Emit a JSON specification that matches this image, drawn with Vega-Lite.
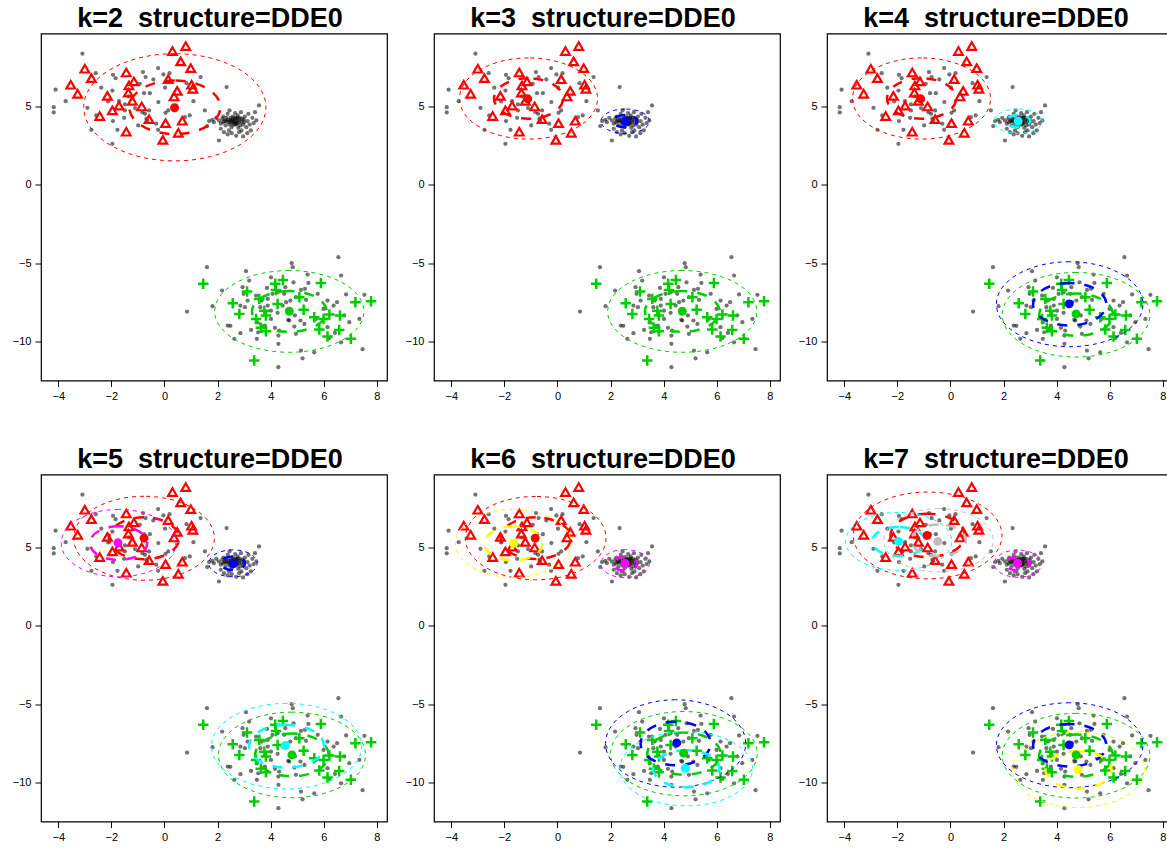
{
"$schema":"https://vega.github.io/schema/vega-lite/v6.json",
"padding":{"left":11,"top":3.5,"right":0,"bottom":0},
"bounds":"flush",
"spacing":{"row":94,"column":47},
"columns":3,
"config":{"font":"Liberation Sans","view":{"stroke":"#000","strokeWidth":1.2},
"title":{"fontSize":27,"fontWeight":"bold","color":"#000","offset":1,"baseline":"bottom","anchor":"middle","frame":"group","dx":-4},
"axis":{"grid":false,"domain":false,"labelFontSize":11,"labelColor":"#000","tickColor":"#000","tickSize":6,"labelPadding":4}},
"datasets":{
"pts":[{"x":-3.09,"y":8.38},{"x":-4.1,"y":6.08},{"x":-3.72,"y":5.35},{"x":-4.17,"y":4.97},{"x":-4.17,"y":4.63},{"x":-2.59,"y":7.14},{"x":-2.38,"y":6.21},{"x":-1.94,"y":7.03},{"x":-1.84,"y":6.82},{"x":-2.9,"y":4.93},{"x":-2.57,"y":4.44},{"x":-2.75,"y":3.52},{"x":-2.12,"y":5.33},{"x":-1.96,"y":6.03},{"x":-1.94,"y":4.08},{"x":-1.77,"y":3.52},{"x":-1.96,"y":2.63},{"x":-1.52,"y":4.29},{"x":-1.49,"y":4.76},{"x":-1.11,"y":4.91},{"x":-0.99,"y":3.8},{"x":-0.81,"y":7.21},{"x":-0.71,"y":6.89},{"x":-0.93,"y":6.46},{"x":-0.77,"y":5.86},{"x":-0.55,"y":5.86},{"x":-0.42,"y":6.74},{"x":-0.24,"y":7.46},{"x":-0.23,"y":5.29},{"x":-0.04,"y":7.06},{"x":0.02,"y":6.21},{"x":0.04,"y":4.61},{"x":0.14,"y":4.76},{"x":-0.31,"y":3.91},{"x":-0.24,"y":3.52},{"x":0.19,"y":7.14},{"x":0.83,"y":6.5},{"x":1.09,"y":5.35},{"x":1.36,"y":6.89},{"x":0.77,"y":4.33},{"x":0.95,"y":4.44},{"x":-0.73,"y":4.54},{"x":-0.68,"y":4.23},{"x":-0.58,"y":4.76},{"x":2.34,"y":6.25},{"x":1.52,"y":4.76},{"x":1.68,"y":4.08},{"x":1.61,"y":3.76},{"x":2.05,"y":2.84},{"x":3.56,"y":5.08},{"x":-1.34,"y":5.65},{"x":-1.71,"y":5.35},{"x":-1.49,"y":5.14},{"x":-0.83,"y":4.65},{"x":-0.65,"y":4.12},
{"x":1.8,"y":4.16},{"x":1.86,"y":4.01},{"x":1.95,"y":4.29},{"x":2.05,"y":4.12},{"x":2.12,"y":3.91},{"x":2.18,"y":4.23},{"x":2.22,"y":4.37},{"x":2.25,"y":4.08},{"x":2.3,"y":3.8},{"x":2.34,"y":4.29},{"x":2.38,"y":4.54},{"x":2.43,"y":4.01},{"x":2.45,"y":4.76},{"x":2.49,"y":4.16},{"x":2.53,"y":3.69},{"x":2.58,"y":4.37},{"x":2.62,"y":4.08},{"x":2.66,"y":4.59},{"x":2.68,"y":3.86},{"x":2.72,"y":4.23},{"x":2.76,"y":4.44},{"x":2.78,"y":3.65},{"x":2.81,"y":4.01},{"x":2.84,"y":4.29},{"x":2.88,"y":4.65},{"x":2.9,"y":3.48},{"x":2.96,"y":3.86},{"x":2.99,"y":4.16},{"x":3.03,"y":4.37},{"x":3.08,"y":3.69},{"x":3.13,"y":4.08},{"x":3.16,"y":4.54},{"x":3.21,"y":3.86},{"x":3.25,"y":3.48},{"x":3.31,"y":4.29},{"x":3.36,"y":3.95},{"x":3.41,"y":4.65},{"x":3.46,"y":4.12},{"x":2.24,"y":3.37},{"x":2.38,"y":3.23},{"x":2.53,"y":3.31},{"x":2.7,"y":3.14},{"x":2.96,"y":3.1},{"x":3.12,"y":3.31},{"x":2.12,"y":3.59},{"x":2.43,"y":3.48},{"x":2.81,"y":3.37},{"x":2.56,"y":4.12},{"x":2.74,"y":3.95},{"x":2.3,"y":4.12},{"x":2.93,"y":4.23},{"x":2.66,"y":4.29},{"x":2.45,"y":3.86},
{"x":2.5,"y":4.05},{"x":2.6,"y":4.2},{"x":2.7,"y":4.1},{"x":2.55,"y":3.95},{"x":2.65,"y":4.0},{"x":2.4,"y":4.15},{"x":2.8,"y":4.15},{"x":2.35,"y":4.05},{"x":2.9,"y":4.05},{"x":2.6,"y":3.85},{"x":2.7,"y":3.9},{"x":2.5,"y":4.3},{"x":2.75,"y":4.3},{"x":2.2,"y":4.0},{"x":3.0,"y":4.0},{"x":2.85,"y":3.8},
{"x":1.6,"y":-5.25},{"x":6.55,"y":-4.61},{"x":4.79,"y":-4.99},{"x":4.83,"y":-5.25},{"x":3.07,"y":-5.5},{"x":4.01,"y":-5.89},{"x":5.39,"y":-5.72},{"x":6.65,"y":-5.78},{"x":3.19,"y":-6.1},{"x":2.17,"y":-6.74},{"x":2.94,"y":-6.52},{"x":2.98,"y":-6.95},{"x":3.86,"y":-6.57},{"x":4.86,"y":-6.21},{"x":5.42,"y":-6.25},{"x":5.14,"y":-6.7},{"x":5.29,"y":-6.63},{"x":5.77,"y":-6.95},{"x":3.45,"y":-7.06},{"x":3.89,"y":-7.27},{"x":4.26,"y":-6.84},{"x":4.51,"y":-6.95},{"x":4.74,"y":-7.38},{"x":4.95,"y":-7.16},{"x":5.33,"y":-7.33},{"x":6.84,"y":-6.99},{"x":7.53,"y":-7.01},{"x":0.85,"y":-8.08},{"x":1.81,"y":-7.74},{"x":3.03,"y":-7.8},{"x":3.13,"y":-7.38},{"x":3.61,"y":-7.8},{"x":4.01,"y":-8.02},{"x":4.26,"y":-8.16},{"x":4.45,"y":-7.7},{"x":4.66,"y":-8.61},{"x":4.91,"y":-8.33},{"x":5.12,"y":-8.65},{"x":5.27,"y":-8.87},{"x":5.7,"y":-8.55},{"x":6.14,"y":-7.38},{"x":6.37,"y":-7.7},{"x":6.5,"y":-7.48},{"x":5.99,"y":-7.91},{"x":6.96,"y":-8.76},{"x":7.34,"y":-8.55},{"x":2.38,"y":-8.97},{"x":2.48,"y":-8.99},{"x":2.86,"y":-9.46},{"x":3.26,"y":-9.25},{"x":3.48,"y":-8.76},{"x":3.78,"y":-8.97},{"x":4.16,"y":-9.12},{"x":4.32,"y":-9.29},{"x":4.7,"y":-8.65},{"x":4.89,"y":-9.04},{"x":6.14,"y":-9.08},{"x":6.42,"y":-9.44},{"x":6.65,"y":-10.04},{"x":2.63,"y":-9.82},{"x":3.48,"y":-9.82},{"x":4.29,"y":-9.61},{"x":4.29,"y":-10.14},{"x":5.64,"y":-10.68},{"x":5.14,"y":-10.57},{"x":5.2,"y":-11.06},{"x":4.29,"y":-11.63},{"x":7.46,"y":-10.48},{"x":6.21,"y":-9.76},{"x":4.07,"y":-6.95},{"x":4.58,"y":-7.48},{"x":3.89,"y":-7.7},{"x":2.86,"y":-7.7},{"x":3.66,"y":-7.38},{"x":3.53,"y":-9.4},{"x":4.01,"y":-8.55},{"x":6.77,"y":-8.33},{"x":4.95,"y":-9.5},{"x":4.55,"y":-6.52}],
"tri":[{"x":0.8,"y":8.87},{"x":0.3,"y":8.55},{"x":0.61,"y":7.89},{"x":0.99,"y":7.46},{"x":-3.0,"y":7.42},{"x":-1.44,"y":7.18},{"x":-2.75,"y":6.82},{"x":-1.15,"y":6.61},{"x":0.14,"y":6.76},{"x":1.02,"y":6.4},{"x":1.07,"y":6.14},{"x":-3.53,"y":6.4},{"x":-1.34,"y":6.35},{"x":0.48,"y":6.01},{"x":-3.27,"y":5.82},{"x":-1.36,"y":5.89},{"x":-2.15,"y":5.69},{"x":0.36,"y":5.65},{"x":-1.21,"y":5.37},{"x":-0.86,"y":5.01},{"x":-1.71,"y":5.06},{"x":-1.96,"y":4.76},{"x":-2.44,"y":4.4},{"x":-0.58,"y":4.2},{"x":0.67,"y":4.1},{"x":0.04,"y":3.95},{"x":-1.44,"y":3.4},{"x":0.52,"y":3.33},{"x":-0.06,"y":2.88}],
"plus":[{"x":1.46,"y":-6.31},{"x":4.17,"y":-6.31},{"x":4.46,"y":-6.06},{"x":5.89,"y":-6.25},{"x":3.11,"y":-6.8},{"x":4.2,"y":-6.7},{"x":3.57,"y":-7.27},{"x":2.57,"y":-7.55},{"x":4.26,"y":-7.59},{"x":5.08,"y":-7.16},{"x":7.19,"y":-7.48},{"x":7.78,"y":-7.42},{"x":2.82,"y":-8.23},{"x":3.76,"y":-8.02},{"x":5.24,"y":-7.97},{"x":3.45,"y":-8.55},{"x":3.82,"y":-8.33},{"x":5.64,"y":-8.44},{"x":5.99,"y":-8.55},{"x":6.21,"y":-8.27},{"x":6.61,"y":-8.33},{"x":5.83,"y":-9.23},{"x":6.58,"y":-9.25},{"x":3.63,"y":-9.12},{"x":3.82,"y":-9.33},{"x":6.14,"y":-9.67},{"x":7.02,"y":-9.82},{"x":3.38,"y":-11.21}],
"ell":[
{"k":2,"c":2,"r":"o","o":0,"x":3.82,"y":4.96},{"k":2,"c":2,"r":"o","o":1,"x":0.39,"y":8.38},{"k":2,"c":2,"r":"o","o":2,"x":-3.04,"y":4.96},{"k":2,"c":2,"r":"o","o":3,"x":0.39,"y":1.54},
{"k":2,"c":2,"r":"i","o":0,"x":2.105,"y":4.96},{"k":2,"c":2,"r":"i","o":1,"x":0.39,"y":6.67},{"k":2,"c":2,"r":"i","o":2,"x":-1.325,"y":4.96},{"k":2,"c":2,"r":"i","o":3,"x":0.39,"y":3.25},
{"k":2,"c":3,"r":"o","o":0,"x":7.51,"y":-8.07},{"k":2,"c":3,"r":"o","o":1,"x":4.7,"y":-5.46},{"k":2,"c":3,"r":"o","o":2,"x":1.89,"y":-8.07},{"k":2,"c":3,"r":"o","o":3,"x":4.7,"y":-10.68},
{"k":2,"c":3,"r":"i","o":0,"x":6.105,"y":-8.07},{"k":2,"c":3,"r":"i","o":1,"x":4.7,"y":-6.765},{"k":2,"c":3,"r":"i","o":2,"x":3.295,"y":-8.07},{"k":2,"c":3,"r":"i","o":3,"x":4.7,"y":-9.375},
{"k":3,"c":2,"r":"o","o":0,"x":1.51,"y":5.52},{"k":3,"c":2,"r":"o","o":1,"x":-1.09,"y":8.11},{"k":3,"c":2,"r":"o","o":2,"x":-3.69,"y":5.52},{"k":3,"c":2,"r":"o","o":3,"x":-1.09,"y":2.93},
{"k":3,"c":2,"r":"i","o":0,"x":0.21,"y":5.52},{"k":3,"c":2,"r":"i","o":1,"x":-1.09,"y":6.815},{"k":3,"c":2,"r":"i","o":2,"x":-2.39,"y":5.52},{"k":3,"c":2,"r":"i","o":3,"x":-1.09,"y":4.225},
{"k":3,"c":3,"r":"o","o":0,"x":7.51,"y":-8.07},{"k":3,"c":3,"r":"o","o":1,"x":4.7,"y":-5.46},{"k":3,"c":3,"r":"o","o":2,"x":1.89,"y":-8.07},{"k":3,"c":3,"r":"o","o":3,"x":4.7,"y":-10.68},
{"k":3,"c":3,"r":"i","o":0,"x":6.105,"y":-8.07},{"k":3,"c":3,"r":"i","o":1,"x":4.7,"y":-6.765},{"k":3,"c":3,"r":"i","o":2,"x":3.295,"y":-8.07},{"k":3,"c":3,"r":"i","o":3,"x":4.7,"y":-9.375},
{"k":3,"c":4,"r":"o","o":0,"x":3.46,"y":4.07},{"k":3,"c":4,"r":"o","o":1,"x":2.55,"y":4.85},{"k":3,"c":4,"r":"o","o":2,"x":1.64,"y":4.07},{"k":3,"c":4,"r":"o","o":3,"x":2.55,"y":3.29},
{"k":3,"c":4,"r":"i","o":0,"x":3.005,"y":4.07},{"k":3,"c":4,"r":"i","o":1,"x":2.55,"y":4.46},{"k":3,"c":4,"r":"i","o":2,"x":2.095,"y":4.07},{"k":3,"c":4,"r":"i","o":3,"x":2.55,"y":3.68},
{"k":4,"c":2,"r":"o","o":0,"x":1.51,"y":5.52},{"k":4,"c":2,"r":"o","o":1,"x":-1.09,"y":8.11},{"k":4,"c":2,"r":"o","o":2,"x":-3.69,"y":5.52},{"k":4,"c":2,"r":"o","o":3,"x":-1.09,"y":2.93},
{"k":4,"c":2,"r":"i","o":0,"x":0.21,"y":5.52},{"k":4,"c":2,"r":"i","o":1,"x":-1.09,"y":6.815},{"k":4,"c":2,"r":"i","o":2,"x":-2.39,"y":5.52},{"k":4,"c":2,"r":"i","o":3,"x":-1.09,"y":4.225},
{"k":4,"c":3,"r":"o","o":0,"x":7.51,"y":-8.28},{"k":4,"c":3,"r":"o","o":1,"x":4.73,"y":-5.58},{"k":4,"c":3,"r":"o","o":2,"x":1.95,"y":-8.28},{"k":4,"c":3,"r":"o","o":3,"x":4.73,"y":-10.98},
{"k":4,"c":3,"r":"i","o":0,"x":6.12,"y":-8.28},{"k":4,"c":3,"r":"i","o":1,"x":4.73,"y":-6.93},{"k":4,"c":3,"r":"i","o":2,"x":3.34,"y":-8.28},{"k":4,"c":3,"r":"i","o":3,"x":4.73,"y":-9.63},
{"k":4,"c":4,"r":"o","o":0,"x":7.25,"y":-7.61},{"k":4,"c":4,"r":"o","o":1,"x":4.49,"y":-4.9},{"k":4,"c":4,"r":"o","o":2,"x":1.73,"y":-7.61},{"k":4,"c":4,"r":"o","o":3,"x":4.49,"y":-10.32},
{"k":4,"c":4,"r":"i","o":0,"x":5.87,"y":-7.61},{"k":4,"c":4,"r":"i","o":1,"x":4.49,"y":-6.255},{"k":4,"c":4,"r":"i","o":2,"x":3.11,"y":-7.61},{"k":4,"c":4,"r":"i","o":3,"x":4.49,"y":-8.965},
{"k":4,"c":5,"r":"o","o":0,"x":3.46,"y":4.07},{"k":4,"c":5,"r":"o","o":1,"x":2.55,"y":4.85},{"k":4,"c":5,"r":"o","o":2,"x":1.64,"y":4.07},{"k":4,"c":5,"r":"o","o":3,"x":2.55,"y":3.29},
{"k":4,"c":5,"r":"i","o":0,"x":3.005,"y":4.07},{"k":4,"c":5,"r":"i","o":1,"x":2.55,"y":4.46},{"k":4,"c":5,"r":"i","o":2,"x":2.095,"y":4.07},{"k":4,"c":5,"r":"i","o":3,"x":2.55,"y":3.68},
{"k":5,"c":2,"r":"o","o":0,"x":1.88,"y":5.6},{"k":5,"c":2,"r":"o","o":1,"x":-0.77,"y":8.28},{"k":5,"c":2,"r":"o","o":2,"x":-3.42,"y":5.6},{"k":5,"c":2,"r":"o","o":3,"x":-0.77,"y":2.92},
{"k":5,"c":2,"r":"i","o":0,"x":0.555,"y":5.6},{"k":5,"c":2,"r":"i","o":1,"x":-0.77,"y":6.94},{"k":5,"c":2,"r":"i","o":2,"x":-2.095,"y":5.6},{"k":5,"c":2,"r":"i","o":3,"x":-0.77,"y":4.26},
{"k":5,"c":3,"r":"o","o":0,"x":7.57,"y":-8.23},{"k":5,"c":3,"r":"o","o":1,"x":4.8,"y":-5.5},{"k":5,"c":3,"r":"o","o":2,"x":2.03,"y":-8.23},{"k":5,"c":3,"r":"o","o":3,"x":4.8,"y":-10.96},
{"k":5,"c":3,"r":"i","o":0,"x":6.185,"y":-8.23},{"k":5,"c":3,"r":"i","o":1,"x":4.8,"y":-6.865},{"k":5,"c":3,"r":"i","o":2,"x":3.415,"y":-8.23},{"k":5,"c":3,"r":"i","o":3,"x":4.8,"y":-9.595},
{"k":5,"c":4,"r":"o","o":0,"x":3.49,"y":4.0},{"k":5,"c":4,"r":"o","o":1,"x":2.58,"y":4.86},{"k":5,"c":4,"r":"o","o":2,"x":1.67,"y":4.0},{"k":5,"c":4,"r":"o","o":3,"x":2.58,"y":3.14},
{"k":5,"c":4,"r":"i","o":0,"x":3.035,"y":4.0},{"k":5,"c":4,"r":"i","o":1,"x":2.58,"y":4.43},{"k":5,"c":4,"r":"i","o":2,"x":2.125,"y":4.0},{"k":5,"c":4,"r":"i","o":3,"x":2.58,"y":3.57},
{"k":5,"c":5,"r":"o","o":0,"x":7.43,"y":-7.67},{"k":5,"c":5,"r":"o","o":1,"x":4.6,"y":-4.94},{"k":5,"c":5,"r":"o","o":2,"x":1.77,"y":-7.67},{"k":5,"c":5,"r":"o","o":3,"x":4.6,"y":-10.4},
{"k":5,"c":5,"r":"i","o":0,"x":6.015,"y":-7.67},{"k":5,"c":5,"r":"i","o":1,"x":4.6,"y":-6.305},{"k":5,"c":5,"r":"i","o":2,"x":3.185,"y":-7.67},{"k":5,"c":5,"r":"i","o":3,"x":4.6,"y":-9.035},
{"k":5,"c":6,"r":"o","o":0,"x":0.43,"y":5.29},{"k":5,"c":6,"r":"o","o":1,"x":-1.73,"y":7.44},{"k":5,"c":6,"r":"o","o":2,"x":-3.89,"y":5.29},{"k":5,"c":6,"r":"o","o":3,"x":-1.73,"y":3.14},
{"k":5,"c":6,"r":"i","o":0,"x":-0.65,"y":5.29},{"k":5,"c":6,"r":"i","o":1,"x":-1.73,"y":6.365},{"k":5,"c":6,"r":"i","o":2,"x":-2.81,"y":5.29},{"k":5,"c":6,"r":"i","o":3,"x":-1.73,"y":4.215},
{"k":6,"c":2,"r":"o","o":0,"x":1.83,"y":5.61},{"k":6,"c":2,"r":"o","o":1,"x":-0.82,"y":8.27},{"k":6,"c":2,"r":"o","o":2,"x":-3.47,"y":5.61},{"k":6,"c":2,"r":"o","o":3,"x":-0.82,"y":2.95},
{"k":6,"c":2,"r":"i","o":0,"x":0.505,"y":5.61},{"k":6,"c":2,"r":"i","o":1,"x":-0.82,"y":6.94},{"k":6,"c":2,"r":"i","o":2,"x":-2.145,"y":5.61},{"k":6,"c":2,"r":"i","o":3,"x":-0.82,"y":4.28},
{"k":6,"c":3,"r":"o","o":0,"x":7.52,"y":-8.15},{"k":6,"c":3,"r":"o","o":1,"x":4.76,"y":-5.46},{"k":6,"c":3,"r":"o","o":2,"x":2.0,"y":-8.15},{"k":6,"c":3,"r":"o","o":3,"x":4.76,"y":-10.84},
{"k":6,"c":3,"r":"i","o":0,"x":6.14,"y":-8.15},{"k":6,"c":3,"r":"i","o":1,"x":4.76,"y":-6.805},{"k":6,"c":3,"r":"i","o":2,"x":3.38,"y":-8.15},{"k":6,"c":3,"r":"i","o":3,"x":4.76,"y":-9.495},
{"k":6,"c":4,"r":"o","o":0,"x":7.09,"y":-7.5},{"k":6,"c":4,"r":"o","o":1,"x":4.45,"y":-4.71},{"k":6,"c":4,"r":"o","o":2,"x":1.81,"y":-7.5},{"k":6,"c":4,"r":"o","o":3,"x":4.45,"y":-10.29},
{"k":6,"c":4,"r":"i","o":0,"x":5.77,"y":-7.5},{"k":6,"c":4,"r":"i","o":1,"x":4.45,"y":-6.105},{"k":6,"c":4,"r":"i","o":2,"x":3.13,"y":-7.5},{"k":6,"c":4,"r":"i","o":3,"x":4.45,"y":-8.895},
{"k":6,"c":5,"r":"o","o":0,"x":7.35,"y":-9.11},{"k":6,"c":5,"r":"o","o":1,"x":4.85,"y":-6.74},{"k":6,"c":5,"r":"o","o":2,"x":2.35,"y":-9.11},{"k":6,"c":5,"r":"o","o":3,"x":4.85,"y":-11.48},
{"k":6,"c":5,"r":"i","o":0,"x":6.1,"y":-9.11},{"k":6,"c":5,"r":"i","o":1,"x":4.85,"y":-7.925},{"k":6,"c":5,"r":"i","o":2,"x":3.6,"y":-9.11},{"k":6,"c":5,"r":"i","o":3,"x":4.85,"y":-10.295},
{"k":6,"c":6,"r":"o","o":0,"x":3.46,"y":3.98},{"k":6,"c":6,"r":"o","o":1,"x":2.55,"y":4.88},{"k":6,"c":6,"r":"o","o":2,"x":1.64,"y":3.98},{"k":6,"c":6,"r":"o","o":3,"x":2.55,"y":3.08},
{"k":6,"c":6,"r":"i","o":0,"x":3.005,"y":3.98},{"k":6,"c":6,"r":"i","o":1,"x":2.55,"y":4.43},{"k":6,"c":6,"r":"i","o":2,"x":2.095,"y":3.98},{"k":6,"c":6,"r":"i","o":3,"x":2.55,"y":3.53},
{"k":6,"c":7,"r":"o","o":0,"x":0.52,"y":5.27},{"k":6,"c":7,"r":"o","o":1,"x":-1.66,"y":7.44},{"k":6,"c":7,"r":"o","o":2,"x":-3.84,"y":5.27},{"k":6,"c":7,"r":"o","o":3,"x":-1.66,"y":3.1},
{"k":6,"c":7,"r":"i","o":0,"x":-0.57,"y":5.27},{"k":6,"c":7,"r":"i","o":1,"x":-1.66,"y":6.355},{"k":6,"c":7,"r":"i","o":2,"x":-2.75,"y":5.27},{"k":6,"c":7,"r":"i","o":3,"x":-1.66,"y":4.185},
{"k":7,"c":2,"r":"o","o":0,"x":1.94,"y":5.78},{"k":7,"c":2,"r":"o","o":1,"x":-0.86,"y":8.55},{"k":7,"c":2,"r":"o","o":2,"x":-3.66,"y":5.78},{"k":7,"c":2,"r":"o","o":3,"x":-0.86,"y":3.01},
{"k":7,"c":2,"r":"i","o":0,"x":0.54,"y":5.78},{"k":7,"c":2,"r":"i","o":1,"x":-0.86,"y":7.165},{"k":7,"c":2,"r":"i","o":2,"x":-2.26,"y":5.78},{"k":7,"c":2,"r":"i","o":3,"x":-0.86,"y":4.395},
{"k":7,"c":3,"r":"o","o":0,"x":7.51,"y":-8.28},{"k":7,"c":3,"r":"o","o":1,"x":4.73,"y":-5.58},{"k":7,"c":3,"r":"o","o":2,"x":1.95,"y":-8.28},{"k":7,"c":3,"r":"o","o":3,"x":4.73,"y":-10.98},
{"k":7,"c":3,"r":"i","o":0,"x":6.12,"y":-8.28},{"k":7,"c":3,"r":"i","o":1,"x":4.73,"y":-6.93},{"k":7,"c":3,"r":"i","o":2,"x":3.34,"y":-8.28},{"k":7,"c":3,"r":"i","o":3,"x":4.73,"y":-9.63},
{"k":7,"c":4,"r":"o","o":0,"x":7.25,"y":-7.61},{"k":7,"c":4,"r":"o","o":1,"x":4.49,"y":-4.9},{"k":7,"c":4,"r":"o","o":2,"x":1.73,"y":-7.61},{"k":7,"c":4,"r":"o","o":3,"x":4.49,"y":-10.32},
{"k":7,"c":4,"r":"i","o":0,"x":5.87,"y":-7.61},{"k":7,"c":4,"r":"i","o":1,"x":4.49,"y":-6.255},{"k":7,"c":4,"r":"i","o":2,"x":3.11,"y":-7.61},{"k":7,"c":4,"r":"i","o":3,"x":4.49,"y":-8.965},
{"k":7,"c":5,"r":"o","o":0,"x":0.05,"y":5.4},{"k":7,"c":5,"r":"o","o":1,"x":-1.95,"y":7.25},{"k":7,"c":5,"r":"o","o":2,"x":-3.95,"y":5.4},{"k":7,"c":5,"r":"o","o":3,"x":-1.95,"y":3.55},
{"k":7,"c":5,"r":"i","o":0,"x":-0.95,"y":5.4},{"k":7,"c":5,"r":"i","o":1,"x":-1.95,"y":6.325},{"k":7,"c":5,"r":"i","o":2,"x":-2.95,"y":5.4},{"k":7,"c":5,"r":"i","o":3,"x":-1.95,"y":4.475},
{"k":7,"c":6,"r":"o","o":0,"x":3.43,"y":3.98},{"k":7,"c":6,"r":"o","o":1,"x":2.54,"y":4.85},{"k":7,"c":6,"r":"o","o":2,"x":1.65,"y":3.98},{"k":7,"c":6,"r":"o","o":3,"x":2.54,"y":3.11},
{"k":7,"c":6,"r":"i","o":0,"x":2.985,"y":3.98},{"k":7,"c":6,"r":"i","o":1,"x":2.54,"y":4.415},{"k":7,"c":6,"r":"i","o":2,"x":2.095,"y":3.98},{"k":7,"c":6,"r":"i","o":3,"x":2.54,"y":3.545},
{"k":7,"c":7,"r":"o","o":0,"x":7.31,"y":-9.18},{"k":7,"c":7,"r":"o","o":1,"x":4.82,"y":-6.77},{"k":7,"c":7,"r":"o","o":2,"x":2.33,"y":-9.18},{"k":7,"c":7,"r":"o","o":3,"x":4.82,"y":-11.59},
{"k":7,"c":7,"r":"i","o":0,"x":6.065,"y":-9.18},{"k":7,"c":7,"r":"i","o":1,"x":4.82,"y":-7.975},{"k":7,"c":7,"r":"i","o":2,"x":3.575,"y":-9.18},{"k":7,"c":7,"r":"i","o":3,"x":4.82,"y":-10.385},
{"k":7,"c":8,"r":"o","o":0,"x":1.61,"y":5.47},{"k":7,"c":8,"r":"o","o":1,"x":-0.45,"y":7.49},{"k":7,"c":8,"r":"o","o":2,"x":-2.51,"y":5.47},{"k":7,"c":8,"r":"o","o":3,"x":-0.45,"y":3.45},
{"k":7,"c":8,"r":"i","o":0,"x":0.58,"y":5.47},{"k":7,"c":8,"r":"i","o":1,"x":-0.45,"y":6.48},{"k":7,"c":8,"r":"i","o":2,"x":-1.48,"y":5.47},{"k":7,"c":8,"r":"i","o":3,"x":-0.45,"y":4.46}],
"ctr":[{"k":2,"c":2,"x":0.38,"y":4.93},{"k":2,"c":3,"x":4.7,"y":-8.06},
{"k":3,"c":2,"x":-1.12,"y":5.5},{"k":3,"c":3,"x":4.7,"y":-8.06},{"k":3,"c":4,"x":2.55,"y":4.07},
{"k":4,"c":2,"x":-1.12,"y":5.5},{"k":4,"c":3,"x":4.73,"y":-8.23},{"k":4,"c":4,"x":4.47,"y":-7.59},{"k":4,"c":5,"x":2.55,"y":4.07},
{"k":5,"c":2,"x":-0.77,"y":5.61},{"k":5,"c":3,"x":4.8,"y":-8.23},{"k":5,"c":4,"x":2.58,"y":3.97},{"k":5,"c":5,"x":4.55,"y":-7.63},{"k":5,"c":6,"x":-1.75,"y":5.31},
{"k":6,"c":2,"x":-0.84,"y":5.61},{"k":6,"c":3,"x":4.75,"y":-8.12},{"k":6,"c":4,"x":4.49,"y":-7.46},{"k":6,"c":5,"x":4.81,"y":-9.08},{"k":6,"c":6,"x":2.54,"y":3.99},{"k":6,"c":7,"x":-1.65,"y":5.28},
{"k":7,"c":2,"x":-0.88,"y":5.78},{"k":7,"c":3,"x":4.73,"y":-8.23},{"k":7,"c":4,"x":4.47,"y":-7.59},{"k":7,"c":5,"x":-1.95,"y":5.4},{"k":7,"c":6,"x":2.53,"y":4.01},{"k":7,"c":7,"x":4.81,"y":-9.18},{"k":7,"c":8,"x":-0.48,"y":5.4}]
},
"concat":[
{"title":"k=2\u00a0 structure=DDE0","width":346,"height":347,
"encoding":{"x":{"field":"x","type":"quantitative","title":null,"scale":{"domain":[-4.65,8.38],"nice":false,"zero":false},"axis":{"values":[-4,-2,0,2,4,6,8]}},"y":{"field":"y","type":"quantitative","title":null,"scale":{"domain":[-12.48,9.67],"nice":false,"zero":false},"axis":{"values":[-10,-5,0,5]}}},
"layer":[
{"data":{"name":"pts"},"mark":{"type":"circle","size":18,"color":"#000","opacity":0.55}},
{"data":{"name":"tri"},"mark":{"type":"point","shape":"triangle-up","filled":false,"color":"#FF0000","strokeWidth":2.2,"size":75,"opacity":1}},
{"data":{"name":"plus"},"mark":{"type":"point","shape":"M-1,0L1,0M0,-1L0,1","filled":false,"color":"#00CD00","strokeWidth":2.5,"size":110,"opacity":1}},
{"data":{"name":"ell"},"transform":[{"filter":"datum.k==2"}],"mark":{"type":"line","interpolate":"cardinal-closed","tension":-0.657},"encoding":{"color":{"field":"c","type":"nominal","scale":{"domain":[2,3,4,5,6,7,8],"range":["#FF0000","#00CD00","#0000FF","#00FFFF","#FF00FF","#FFFF00","#BEBEBE"]},"legend":null},"strokeDash":{"field":"r","type":"nominal","scale":{"domain":["i","o"],"range":[[10,10],[4,4]]},"legend":null},"strokeWidth":{"field":"r","type":"nominal","scale":{"domain":["i","o"],"range":[2.5,1]},"legend":null},"order":{"field":"o","type":"quantitative"}}},
{"data":{"name":"ctr"},"transform":[{"filter":"datum.k==2"}],"mark":{"type":"circle","size":80,"opacity":1},"encoding":{"color":{"field":"c","type":"nominal","scale":{"domain":[2,3,4,5,6,7,8],"range":["#FF0000","#00CD00","#0000FF","#00FFFF","#FF00FF","#FFFF00","#BEBEBE"]},"legend":null}}}
]},
{"title":"k=3\u00a0 structure=DDE0","width":346,"height":347,
"encoding":{"x":{"field":"x","type":"quantitative","title":null,"scale":{"domain":[-4.65,8.38],"nice":false,"zero":false},"axis":{"values":[-4,-2,0,2,4,6,8]}},"y":{"field":"y","type":"quantitative","title":null,"scale":{"domain":[-12.48,9.67],"nice":false,"zero":false},"axis":{"values":[-10,-5,0,5]}}},
"layer":[
{"data":{"name":"pts"},"mark":{"type":"circle","size":18,"color":"#000","opacity":0.55}},
{"data":{"name":"tri"},"mark":{"type":"point","shape":"triangle-up","filled":false,"color":"#FF0000","strokeWidth":2.2,"size":75,"opacity":1}},
{"data":{"name":"plus"},"mark":{"type":"point","shape":"M-1,0L1,0M0,-1L0,1","filled":false,"color":"#00CD00","strokeWidth":2.5,"size":110,"opacity":1}},
{"data":{"name":"ell"},"transform":[{"filter":"datum.k==3"}],"mark":{"type":"line","interpolate":"cardinal-closed","tension":-0.657},"encoding":{"color":{"field":"c","type":"nominal","scale":{"domain":[2,3,4,5,6,7,8],"range":["#FF0000","#00CD00","#0000FF","#00FFFF","#FF00FF","#FFFF00","#BEBEBE"]},"legend":null},"strokeDash":{"field":"r","type":"nominal","scale":{"domain":["i","o"],"range":[[10,10],[4,4]]},"legend":null},"strokeWidth":{"field":"r","type":"nominal","scale":{"domain":["i","o"],"range":[2.5,1]},"legend":null},"order":{"field":"o","type":"quantitative"}}},
{"data":{"name":"ctr"},"transform":[{"filter":"datum.k==3"}],"mark":{"type":"circle","size":80,"opacity":1},"encoding":{"color":{"field":"c","type":"nominal","scale":{"domain":[2,3,4,5,6,7,8],"range":["#FF0000","#00CD00","#0000FF","#00FFFF","#FF00FF","#FFFF00","#BEBEBE"]},"legend":null}}}
]},
{"title":"k=4\u00a0 structure=DDE0","width":346,"height":347,
"encoding":{"x":{"field":"x","type":"quantitative","title":null,"scale":{"domain":[-4.65,8.38],"nice":false,"zero":false},"axis":{"values":[-4,-2,0,2,4,6,8]}},"y":{"field":"y","type":"quantitative","title":null,"scale":{"domain":[-12.48,9.67],"nice":false,"zero":false},"axis":{"values":[-10,-5,0,5]}}},
"layer":[
{"data":{"name":"pts"},"mark":{"type":"circle","size":18,"color":"#000","opacity":0.55}},
{"data":{"name":"tri"},"mark":{"type":"point","shape":"triangle-up","filled":false,"color":"#FF0000","strokeWidth":2.2,"size":75,"opacity":1}},
{"data":{"name":"plus"},"mark":{"type":"point","shape":"M-1,0L1,0M0,-1L0,1","filled":false,"color":"#00CD00","strokeWidth":2.5,"size":110,"opacity":1}},
{"data":{"name":"ell"},"transform":[{"filter":"datum.k==4"}],"mark":{"type":"line","interpolate":"cardinal-closed","tension":-0.657},"encoding":{"color":{"field":"c","type":"nominal","scale":{"domain":[2,3,4,5,6,7,8],"range":["#FF0000","#00CD00","#0000FF","#00FFFF","#FF00FF","#FFFF00","#BEBEBE"]},"legend":null},"strokeDash":{"field":"r","type":"nominal","scale":{"domain":["i","o"],"range":[[10,10],[4,4]]},"legend":null},"strokeWidth":{"field":"r","type":"nominal","scale":{"domain":["i","o"],"range":[2.5,1]},"legend":null},"order":{"field":"o","type":"quantitative"}}},
{"data":{"name":"ctr"},"transform":[{"filter":"datum.k==4"}],"mark":{"type":"circle","size":80,"opacity":1},"encoding":{"color":{"field":"c","type":"nominal","scale":{"domain":[2,3,4,5,6,7,8],"range":["#FF0000","#00CD00","#0000FF","#00FFFF","#FF00FF","#FFFF00","#BEBEBE"]},"legend":null}}}
]},
{"title":"k=5\u00a0 structure=DDE0","width":346,"height":347,
"encoding":{"x":{"field":"x","type":"quantitative","title":null,"scale":{"domain":[-4.65,8.38],"nice":false,"zero":false},"axis":{"values":[-4,-2,0,2,4,6,8]}},"y":{"field":"y","type":"quantitative","title":null,"scale":{"domain":[-12.48,9.67],"nice":false,"zero":false},"axis":{"values":[-10,-5,0,5]}}},
"layer":[
{"data":{"name":"pts"},"mark":{"type":"circle","size":18,"color":"#000","opacity":0.55}},
{"data":{"name":"tri"},"mark":{"type":"point","shape":"triangle-up","filled":false,"color":"#FF0000","strokeWidth":2.2,"size":75,"opacity":1}},
{"data":{"name":"plus"},"mark":{"type":"point","shape":"M-1,0L1,0M0,-1L0,1","filled":false,"color":"#00CD00","strokeWidth":2.5,"size":110,"opacity":1}},
{"data":{"name":"ell"},"transform":[{"filter":"datum.k==5"}],"mark":{"type":"line","interpolate":"cardinal-closed","tension":-0.657},"encoding":{"color":{"field":"c","type":"nominal","scale":{"domain":[2,3,4,5,6,7,8],"range":["#FF0000","#00CD00","#0000FF","#00FFFF","#FF00FF","#FFFF00","#BEBEBE"]},"legend":null},"strokeDash":{"field":"r","type":"nominal","scale":{"domain":["i","o"],"range":[[10,10],[4,4]]},"legend":null},"strokeWidth":{"field":"r","type":"nominal","scale":{"domain":["i","o"],"range":[2.5,1]},"legend":null},"order":{"field":"o","type":"quantitative"}}},
{"data":{"name":"ctr"},"transform":[{"filter":"datum.k==5"}],"mark":{"type":"circle","size":80,"opacity":1},"encoding":{"color":{"field":"c","type":"nominal","scale":{"domain":[2,3,4,5,6,7,8],"range":["#FF0000","#00CD00","#0000FF","#00FFFF","#FF00FF","#FFFF00","#BEBEBE"]},"legend":null}}}
]},
{"title":"k=6\u00a0 structure=DDE0","width":346,"height":347,
"encoding":{"x":{"field":"x","type":"quantitative","title":null,"scale":{"domain":[-4.65,8.38],"nice":false,"zero":false},"axis":{"values":[-4,-2,0,2,4,6,8]}},"y":{"field":"y","type":"quantitative","title":null,"scale":{"domain":[-12.48,9.67],"nice":false,"zero":false},"axis":{"values":[-10,-5,0,5]}}},
"layer":[
{"data":{"name":"pts"},"mark":{"type":"circle","size":18,"color":"#000","opacity":0.55}},
{"data":{"name":"tri"},"mark":{"type":"point","shape":"triangle-up","filled":false,"color":"#FF0000","strokeWidth":2.2,"size":75,"opacity":1}},
{"data":{"name":"plus"},"mark":{"type":"point","shape":"M-1,0L1,0M0,-1L0,1","filled":false,"color":"#00CD00","strokeWidth":2.5,"size":110,"opacity":1}},
{"data":{"name":"ell"},"transform":[{"filter":"datum.k==6"}],"mark":{"type":"line","interpolate":"cardinal-closed","tension":-0.657},"encoding":{"color":{"field":"c","type":"nominal","scale":{"domain":[2,3,4,5,6,7,8],"range":["#FF0000","#00CD00","#0000FF","#00FFFF","#FF00FF","#FFFF00","#BEBEBE"]},"legend":null},"strokeDash":{"field":"r","type":"nominal","scale":{"domain":["i","o"],"range":[[10,10],[4,4]]},"legend":null},"strokeWidth":{"field":"r","type":"nominal","scale":{"domain":["i","o"],"range":[2.5,1]},"legend":null},"order":{"field":"o","type":"quantitative"}}},
{"data":{"name":"ctr"},"transform":[{"filter":"datum.k==6"}],"mark":{"type":"circle","size":80,"opacity":1},"encoding":{"color":{"field":"c","type":"nominal","scale":{"domain":[2,3,4,5,6,7,8],"range":["#FF0000","#00CD00","#0000FF","#00FFFF","#FF00FF","#FFFF00","#BEBEBE"]},"legend":null}}}
]},
{"title":"k=7\u00a0 structure=DDE0","width":346,"height":347,
"encoding":{"x":{"field":"x","type":"quantitative","title":null,"scale":{"domain":[-4.65,8.38],"nice":false,"zero":false},"axis":{"values":[-4,-2,0,2,4,6,8]}},"y":{"field":"y","type":"quantitative","title":null,"scale":{"domain":[-12.48,9.67],"nice":false,"zero":false},"axis":{"values":[-10,-5,0,5]}}},
"layer":[
{"data":{"name":"pts"},"mark":{"type":"circle","size":18,"color":"#000","opacity":0.55}},
{"data":{"name":"tri"},"mark":{"type":"point","shape":"triangle-up","filled":false,"color":"#FF0000","strokeWidth":2.2,"size":75,"opacity":1}},
{"data":{"name":"plus"},"mark":{"type":"point","shape":"M-1,0L1,0M0,-1L0,1","filled":false,"color":"#00CD00","strokeWidth":2.5,"size":110,"opacity":1}},
{"data":{"name":"ell"},"transform":[{"filter":"datum.k==7"}],"mark":{"type":"line","interpolate":"cardinal-closed","tension":-0.657},"encoding":{"color":{"field":"c","type":"nominal","scale":{"domain":[2,3,4,5,6,7,8],"range":["#FF0000","#00CD00","#0000FF","#00FFFF","#FF00FF","#FFFF00","#BEBEBE"]},"legend":null},"strokeDash":{"field":"r","type":"nominal","scale":{"domain":["i","o"],"range":[[10,10],[4,4]]},"legend":null},"strokeWidth":{"field":"r","type":"nominal","scale":{"domain":["i","o"],"range":[2.5,1]},"legend":null},"order":{"field":"o","type":"quantitative"}}},
{"data":{"name":"ctr"},"transform":[{"filter":"datum.k==7"}],"mark":{"type":"circle","size":80,"opacity":1},"encoding":{"color":{"field":"c","type":"nominal","scale":{"domain":[2,3,4,5,6,7,8],"range":["#FF0000","#00CD00","#0000FF","#00FFFF","#FF00FF","#FFFF00","#BEBEBE"]},"legend":null}}}
]}
]
}
